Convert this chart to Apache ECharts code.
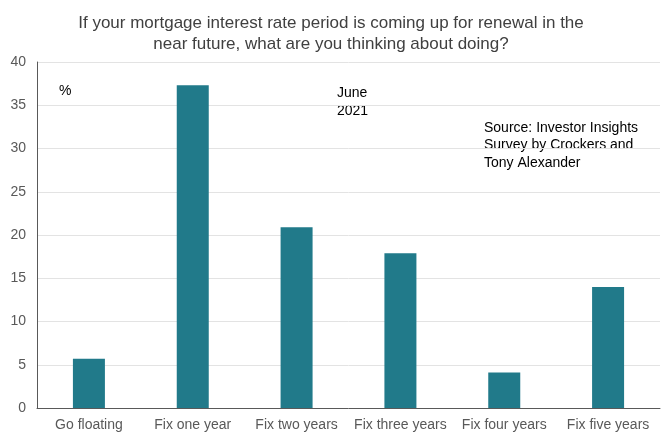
<!DOCTYPE html>
<html>
<head>
<meta charset="utf-8">
<script src="https://cdn.jsdelivr.net/npm/echarts@6/dist/echarts.min.js"></script>
<style>html,body{margin:0;padding:0;background:#fff}#c{width:662px;height:436px}</style>
</head>
<body>
<div id="c"></div>
<script>
var categories = ['Go floating', 'Fix one year', 'Fix two years', 'Fix three years', 'Fix four years', 'Fix five years'];
var values = [5.7, 37.3, 20.9, 17.9, 4.1, 14.0];
var yTicks = [0, 5, 10, 15, 20, 25, 30, 35, 40];

var chart = echarts.init(document.getElementById('c'), null, {renderer: 'canvas'});
var font = '"Liberation Sans", Arial, sans-serif';
chart.setOption({
  animation: false,
  title: {
    text: 'If your mortgage interest rate period is coming up for renewal in the\nnear future, what are you thinking about doing?',
    left: 'center', top: 8,
    textStyle: {fontFamily: font, fontSize: 17, fontWeight: 'normal', color: '#404040', lineHeight: 21}
  },
  grid: {left: 37, right: 2, top: 62, bottom: 28, containLabel: false},
  xAxis: {
    type: 'category', data: categories,
    axisLine: {lineStyle: {color: '#595959', width: 1}},
    axisTick: {show: false},
    axisLabel: {fontFamily: font, fontSize: 14, color: '#595959', margin: 10, interval: 0}
  },
  yAxis: {
    type: 'value', min: yTicks[0], max: yTicks[yTicks.length - 1], interval: 5,
    axisLine: {show: true, lineStyle: {color: '#595959', width: 1}},
    axisTick: {show: false},
    axisLabel: {fontFamily: font, fontSize: 14, color: '#595959', margin: 11},
    splitLine: {lineStyle: {color: '#e3e3e3', width: 1}}
  },
  series: [{
    type: 'bar', data: values, barWidth: 32,
    itemStyle: {color: '#217A8A'}
  }],
  graphic: [
    {type: 'text', left: 59, top: 84, style: {text: '%', font: '14px ' + font, fill: '#000'}},
    {type: 'text', left: 337, top: 84, style: {text: 'June\n2021', font: '14px ' + font, fill: '#000', lineHeight: 18}},
    {type: 'text', left: 484, top: 119, style: {text: 'Source: Investor Insights\nSurvey by Crockers and\nTony Alexander', font: '14px ' + font, fill: '#000', lineHeight: 17.5}}
  ]
});
</script>
</body>
</html>
